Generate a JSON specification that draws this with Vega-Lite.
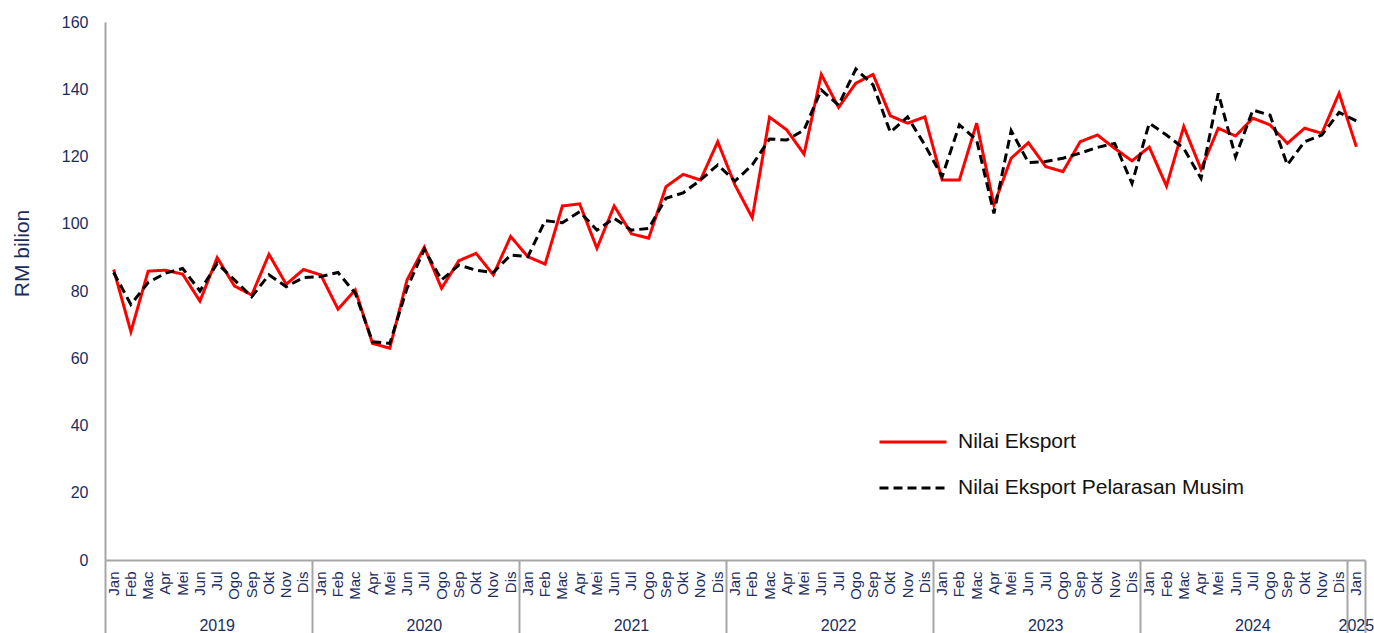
{
  "$schema": "https://vega.github.io/schema/vega-lite/v6.json",
  "width": 1260,
  "height": 538,
  "autosize": {"type": "none"},
  "padding": {"left": 105, "top": 22, "right": 9, "bottom": 73},
  "background": "white",
  "config": {
    "view": {"stroke": null},
    "font": "Liberation Sans",
    "axis": {"labelFont": "Liberation Sans", "titleFont": "Liberation Sans", "labelColor": "#1b2d5e", "titleColor": "#1b2d5e", "grid": false}
  },
  "data": {
    "values": [
      {"date": "2019-01", "eksport": 86.4, "pelarasan": 85.5},
      {"date": "2019-02", "eksport": 67.9, "pelarasan": 76.0},
      {"date": "2019-03", "eksport": 85.9, "pelarasan": 82.5},
      {"date": "2019-04", "eksport": 86.2, "pelarasan": 85.3},
      {"date": "2019-05", "eksport": 85.0, "pelarasan": 86.7},
      {"date": "2019-06", "eksport": 77.0, "pelarasan": 80.0},
      {"date": "2019-07", "eksport": 89.9, "pelarasan": 88.2},
      {"date": "2019-08", "eksport": 81.5, "pelarasan": 83.3},
      {"date": "2019-09", "eksport": 78.8, "pelarasan": 78.3},
      {"date": "2019-10", "eksport": 90.9, "pelarasan": 84.8},
      {"date": "2019-11", "eksport": 82.0, "pelarasan": 81.3},
      {"date": "2019-12", "eksport": 86.4, "pelarasan": 84.0},
      {"date": "2020-01", "eksport": 84.8, "pelarasan": 84.3},
      {"date": "2020-02", "eksport": 74.6, "pelarasan": 85.5},
      {"date": "2020-03", "eksport": 80.3, "pelarasan": 79.3},
      {"date": "2020-04", "eksport": 64.4, "pelarasan": 64.9},
      {"date": "2020-05", "eksport": 63.0, "pelarasan": 64.4},
      {"date": "2020-06", "eksport": 83.3, "pelarasan": 80.8},
      {"date": "2020-07", "eksport": 93.0, "pelarasan": 92.4},
      {"date": "2020-08", "eksport": 80.8, "pelarasan": 83.3},
      {"date": "2020-09", "eksport": 89.0, "pelarasan": 87.7},
      {"date": "2020-10", "eksport": 91.2, "pelarasan": 86.2},
      {"date": "2020-11", "eksport": 84.8, "pelarasan": 85.5},
      {"date": "2020-12", "eksport": 96.2, "pelarasan": 90.7},
      {"date": "2021-01", "eksport": 90.2, "pelarasan": 90.2},
      {"date": "2021-02", "eksport": 88.0, "pelarasan": 100.9},
      {"date": "2021-03", "eksport": 105.3, "pelarasan": 100.3},
      {"date": "2021-04", "eksport": 105.9, "pelarasan": 103.6},
      {"date": "2021-05", "eksport": 92.7, "pelarasan": 98.1},
      {"date": "2021-06", "eksport": 105.3, "pelarasan": 101.6},
      {"date": "2021-07", "eksport": 97.0, "pelarasan": 98.1},
      {"date": "2021-08", "eksport": 95.7, "pelarasan": 98.6},
      {"date": "2021-09", "eksport": 111.0, "pelarasan": 107.6},
      {"date": "2021-10", "eksport": 114.7, "pelarasan": 109.2},
      {"date": "2021-11", "eksport": 113.0, "pelarasan": 113.0},
      {"date": "2021-12", "eksport": 124.4, "pelarasan": 117.5},
      {"date": "2022-01", "eksport": 111.5, "pelarasan": 112.7},
      {"date": "2022-02", "eksport": 101.8, "pelarasan": 117.5},
      {"date": "2022-03", "eksport": 131.7, "pelarasan": 125.2},
      {"date": "2022-04", "eksport": 127.9, "pelarasan": 124.9},
      {"date": "2022-05", "eksport": 120.7, "pelarasan": 127.9},
      {"date": "2022-06", "eksport": 144.4, "pelarasan": 139.8},
      {"date": "2022-07", "eksport": 134.6, "pelarasan": 135.3},
      {"date": "2022-08", "eksport": 141.8, "pelarasan": 146.0},
      {"date": "2022-09", "eksport": 144.4, "pelarasan": 141.3},
      {"date": "2022-10", "eksport": 132.1, "pelarasan": 127.2},
      {"date": "2022-11", "eksport": 129.9, "pelarasan": 131.8},
      {"date": "2022-12", "eksport": 131.8, "pelarasan": 123.4},
      {"date": "2023-01", "eksport": 113.0, "pelarasan": 114.0},
      {"date": "2023-02", "eksport": 113.0, "pelarasan": 129.4},
      {"date": "2023-03", "eksport": 129.9, "pelarasan": 124.9},
      {"date": "2023-04", "eksport": 105.6, "pelarasan": 103.1},
      {"date": "2023-05", "eksport": 119.5, "pelarasan": 127.7},
      {"date": "2023-06", "eksport": 124.1, "pelarasan": 118.2},
      {"date": "2023-07", "eksport": 117.0, "pelarasan": 118.5},
      {"date": "2023-08", "eksport": 115.5, "pelarasan": 119.5},
      {"date": "2023-09", "eksport": 124.4, "pelarasan": 121.0},
      {"date": "2023-10", "eksport": 126.4, "pelarasan": 122.7},
      {"date": "2023-11", "eksport": 122.4, "pelarasan": 123.9},
      {"date": "2023-12", "eksport": 118.7, "pelarasan": 112.0},
      {"date": "2024-01", "eksport": 122.8, "pelarasan": 129.9},
      {"date": "2024-02", "eksport": 111.2, "pelarasan": 126.4},
      {"date": "2024-03", "eksport": 128.9, "pelarasan": 122.4},
      {"date": "2024-04", "eksport": 116.2, "pelarasan": 113.5},
      {"date": "2024-05", "eksport": 128.4, "pelarasan": 138.8},
      {"date": "2024-06", "eksport": 126.1, "pelarasan": 119.9},
      {"date": "2024-07", "eksport": 131.4, "pelarasan": 133.8},
      {"date": "2024-08", "eksport": 129.4, "pelarasan": 132.3},
      {"date": "2024-09", "eksport": 123.9, "pelarasan": 117.5},
      {"date": "2024-10", "eksport": 128.4, "pelarasan": 124.4},
      {"date": "2024-11", "eksport": 126.9, "pelarasan": 126.4},
      {"date": "2024-12", "eksport": 138.8, "pelarasan": 133.1},
      {"date": "2025-01", "eksport": 122.9, "pelarasan": 130.6}
    ]
  },
  "layer": [
    {
      "transform": [{"fold": ["eksport", "pelarasan"], "as": ["series", "value"]}],
      "mark": {"type": "line", "strokeWidth": 3},
      "encoding": {
        "x": {
          "field": "date", "type": "ordinal", "sort": null,
          "scale": {"paddingInner": 0, "paddingOuter": 0},
          "axis": {
            "orient": "bottom", "title": null, "labelAngle": -90, "labelFontSize": 15,
            "labelPadding": 11, "ticks": false, "domainColor": "#a6a6a6", "domainWidth": 2,
            "labelExpr": "['Jan','Feb','Mac','Apr','Mei','Jun','Jul','Ogo','Sep','Okt','Nov','Dis'][toNumber(slice(datum.value,5))-1]"
          }
        },
        "y": {
          "field": "value", "type": "quantitative",
          "scale": {"domain": [0, 160]},
          "axis": {
            "title": "RM bilion", "values": [0, 20, 40, 60, 80, 100, 120, 140, 160],
            "ticks": false, "labelPadding": 17, "labelFontSize": 16,
            "titleFontSize": 21, "titleFontWeight": "normal", "titlePadding": 29, "titleY": 231,
            "domainColor": "#a6a6a6", "domainWidth": 2
          }
        },
        "color": {
          "field": "series", "type": "nominal",
          "scale": {"domain": ["eksport", "pelarasan"], "range": ["#ff0000", "#000000"]},
          "legend": {
            "orient": "none", "legendX": 773, "legendY": 385, "title": null,
            "symbolType": "stroke", "symbolSize": 4489, "symbolStrokeWidth": 3,
            "labelFontSize": 21, "labelColor": "#111111", "labelOffset": 10, "rowPadding": 1, "labelLimit": 500,
            "labelExpr": "datum.label == 'eksport' ? 'Nilai Eksport' : 'Nilai Eksport Pelarasan Musim'"
          }
        },
        "strokeDash": {
          "field": "series", "type": "nominal",
          "scale": {"domain": ["eksport", "pelarasan"], "range": [[1, 0], [9, 5]]},
          "legend": {
            "orient": "none", "legendX": 773, "legendY": 385, "title": null,
            "symbolType": "stroke", "symbolSize": 4489, "symbolStrokeWidth": 3,
            "labelFontSize": 21, "labelColor": "#111111", "labelOffset": 10, "rowPadding": 1, "labelLimit": 500,
            "labelExpr": "datum.label == 'eksport' ? 'Nilai Eksport' : 'Nilai Eksport Pelarasan Musim'"
          }
        }
      }
    },
    {
      "mark": {"type": "rule", "opacity": 0},
      "encoding": {
        "x": {
          "field": "date", "type": "ordinal", "sort": null,
          "axis": {
            "orient": "bottom", "title": null, "labels": false, "domain": false,
            "values": ["2019-01", "2020-01", "2021-01", "2022-01", "2023-01", "2024-01", "2025-01"],
            "bandPosition": 0.0001, "tickSize": 76, "tickColor": "#a6a6a6", "tickWidth": 2
          }
        }
      }
    },
    {
      "mark": {"type": "rule", "opacity": 0},
      "encoding": {
        "x": {
          "field": "date", "type": "ordinal", "sort": null,
          "axis": {
            "orient": "bottom", "title": null, "labels": false, "domain": false,
            "values": ["2025-01"],
            "bandPosition": 1, "tickSize": 76, "tickColor": "#a6a6a6", "tickWidth": 2
          }
        }
      }
    },
    {
      "mark": {"type": "rule", "opacity": 0},
      "encoding": {
        "x": {
          "field": "date", "type": "ordinal", "sort": null,
          "axis": {
            "orient": "bottom", "title": null, "domain": false, "ticks": false,
            "values": ["2019-07", "2020-07", "2021-07", "2022-07", "2023-07", "2024-07", "2025-01"],
            "bandPosition": 0.0001, "labelAngle": 0, "labelBaseline": "top", "labelAlign": "center",
            "labelPadding": 57, "labelFontSize": 16,
            "labelExpr": "slice(datum.value,0,4)"
          }
        }
      }
    }
  ],
  "resolve": {"axis": {"x": "independent"}}
}
